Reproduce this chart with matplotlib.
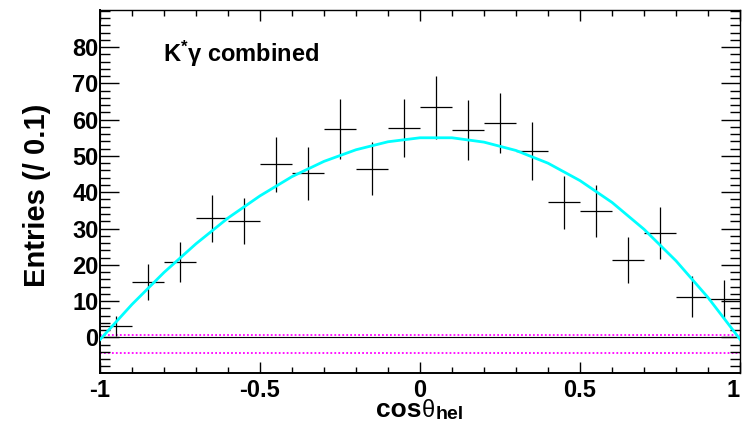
#!/usr/bin/env python3
"""
Helicity angle distribution, K*gamma combined (ROOT-like style).
Saves out.png
"""
import matplotlib
matplotlib.use("Agg")
import matplotlib.pyplot as plt
from matplotlib.ticker import MultipleLocator

# ── data ─────────────────────────────────────────────────────
bin_centers = [-0.95, -0.85, -0.75, -0.65, -0.55, -0.45, -0.35, -0.25, -0.15, -0.05,
               0.05, 0.15, 0.25, 0.35, 0.45, 0.55, 0.65, 0.75, 0.85, 0.95]
entries = [3.1, 15.2, 20.7, 32.8, 32.0, 47.7, 45.2, 57.4, 46.4, 57.8,
           63.4, 57.1, 59.1, 51.3, 37.2, 34.9, 21.4, 28.8, 11.2, 10.6]
errors = [2.8, 5.0, 5.5, 6.4, 6.4, 7.6, 7.3, 8.3, 7.3, 8.0,
          8.6, 8.3, 8.3, 8.0, 7.2, 7.2, 6.4, 7.2, 5.7, 5.3]
bin_half_width = 0.05

# fitted curve
fit_x = [-1.0, -0.9, -0.8, -0.7, -0.6, -0.5, -0.4, -0.3, -0.2, -0.1, 0.0,
         0.1, 0.2, 0.3, 0.4, 0.5, 0.6, 0.7, 0.8, 0.9, 1.0]
fit_y = [-0.6, 9.1, 17.9, 25.8, 32.9, 39.0, 44.3, 48.5, 51.7, 53.9, 55.0,
         55.0, 53.8, 51.5, 48.0, 43.2, 37.2, 29.8, 21.1, 11.0, -0.5]

# dotted reference levels
levels = [0.8, -4.2]

x_tick_vals = [-1, -0.5, 0, 0.5, 1]
x_tick_text = ["-1", "-0.5", "0", "0.5", "1"]
y_tick_vals = [0, 10, 20, 30, 40, 50, 60, 70, 80]

# ── style ────────────────────────────────────────────────────
plt.rcParams["font.family"] = ["Liberation Sans", "DejaVu Sans"]
plt.rcParams["font.weight"] = "bold"
plt.rcParams["mathtext.fontset"] = "custom"
plt.rcParams["mathtext.rm"] = "Liberation Sans"
plt.rcParams["mathtext.it"] = "Liberation Sans"
plt.rcParams["mathtext.bf"] = "Liberation Sans:bold"

W, H = 745, 424
fig = plt.figure(figsize=(W / 100, H / 100), dpi=100)
fig.patch.set_facecolor("white")
ax = fig.add_axes([100 / W, 1 - 373 / H, 640 / W, 363 / H])

# zero line and dotted levels
ax.axhline(0, color="black", lw=0.8, zorder=1)
for lv in levels:
    ax.axhline(lv, color="#ff00ff", lw=1.3, ls=(0, (1, 1.2)), zorder=1)

# data points
ax.errorbar(bin_centers, entries, yerr=errors, xerr=bin_half_width,
            fmt="none", ecolor="black", elinewidth=0.9, capsize=0, zorder=3)

# fit
ax.plot(fit_x, fit_y, color="#00ffff", lw=2.0, zorder=4)

ax.set_xlim(-1, 1)
ax.set_ylim(-9.8, 90.2)

# ticks — ROOT look: inside, on all four sides
ax.xaxis.set_minor_locator(MultipleLocator(0.1))
ax.yaxis.set_minor_locator(MultipleLocator(2))
ax.set_xticks(x_tick_vals)
ax.set_xticklabels(x_tick_text)
ax.set_yticks(y_tick_vals)
ax.tick_params(axis="both", which="both", direction="in",
               top=True, right=True, labelsize=17, colors="black")
ax.tick_params(axis="x", which="major", length=8, width=1.0, pad=4.5)
ax.tick_params(axis="x", which="minor", length=4, width=1.0)
ax.tick_params(axis="y", which="major", length=13.5, width=1.0, pad=1)
ax.tick_params(axis="y", which="minor", length=7, width=1.0)
for lab in ax.get_xticklabels() + ax.get_yticklabels():
    lab.set_fontweight("bold")
ax.get_xticklabels()[-1].set_horizontalalignment("right")

for side in ["left", "bottom"]:
    ax.spines[side].set_linewidth(1.4)
for side in ["top", "right"]:
    ax.spines[side].set_linewidth(1.0)

# axis titles
ax.set_ylabel("Entries (/ 0.1)", fontsize=21, fontweight="bold", va="center")
ax.yaxis.set_label_coords(-0.098, 0.49)

# x title built from pieces: bold "cos", thin theta, bold subscript "hel"
t_cos = ax.text(0.431, -0.1212, "cos", transform=ax.transAxes,
                fontsize=19, fontweight="bold", ha="left", va="baseline")
t_th = ax.annotate("θ", xy=(1, 0), xycoords=t_cos, xytext=(0.5, 0),
                   textcoords="offset points", fontsize=17,
                   fontweight="normal", ha="left", va="bottom")
ax.annotate("hel", xy=(1, 0), xycoords=t_th, xytext=(0, -1),
            textcoords="offset points", fontsize=14,
            fontweight="bold", ha="left", va="bottom")

# label in the plot
ax.text(0.098, 0.857, r"K$^{*}\gamma$ combined", transform=ax.transAxes,
        fontsize=17, fontweight="bold", ha="left", va="baseline")

fig.savefig("out.png", dpi=100)
plt.close(fig)
